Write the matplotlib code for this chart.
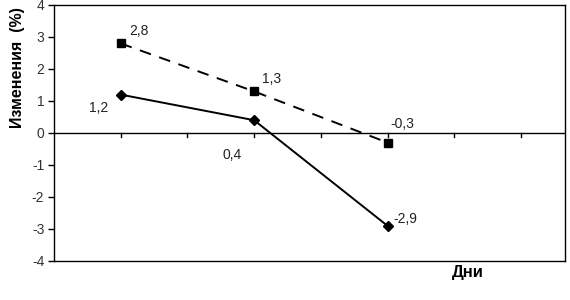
import matplotlib
matplotlib.use("Agg")
import matplotlib.pyplot as plt

plt.rcParams['font.family'] = ['Liberation Sans', 'DejaVu Sans']
plt.rcParams['axes.unicode_minus'] = False

x_pos = [1, 3, 5]
dashed_vals = [2.8, 1.3, -0.3]
solid_vals = [1.2, 0.4, -2.9]
dashed_labels = ["2,8", "1,3", "-0,3"]
solid_labels = ["1,2", "0,4", "-2,9"]
y_ticks = [-4, -3, -2, -1, 0, 1, 2, 3, 4]

fig = plt.figure(figsize=(5.7, 3.0), dpi=100)
ax = fig.add_axes([54/570, 1-261/300, (565-54)/570, (261-5)/300])

ax.plot(x_pos, dashed_vals, color='black', lw=1.4, ls=(0, (6, 4.5)),
        marker='s', ms=6, mfc='black', mec='black', clip_on=False)
ax.plot(x_pos, solid_vals, color='black', lw=1.4, ls='-',
        marker='D', ms=5, mfc='black', mec='black', clip_on=False)

ax.set_xlim(0, (565-54)/66.7)
ax.set_ylim(-4, 4)

ax.set_yticks(y_ticks)
ax.set_yticklabels([str(v) for v in y_ticks])
ax.tick_params(axis='y', direction='out', length=4, width=1, labelsize=10, pad=3, colors='black', labelcolor='#333333')

ax.set_xticks([])
ax.axhline(0, color='black', lw=1)
for t in range(1, 8):
    ax.plot([t, t], [0, -0.13], color='black', lw=1, clip_on=False)

for s in ax.spines.values():
    s.set_linewidth(1)

offs_d = [(6, 4), (6, 4), (2, 8)]
for xv, yv, lab, (dx, dy) in zip(x_pos, dashed_vals, dashed_labels, offs_d):
    ax.annotate(lab, (xv, yv), xytext=(dx, dy), textcoords='offset points',
                fontsize=10, color='#222222', ha='left', va='bottom')
offs_s = [(-23, -15), (-23, -30), (4, 0)]
for xv, yv, lab, (dx, dy) in zip(x_pos, solid_vals, solid_labels, offs_s):
    ax.annotate(lab, (xv, yv), xytext=(dx, dy), textcoords='offset points',
                fontsize=10, color='#222222', ha='left', va='bottom')

fig.text(18/570, 1-68/300, "Изменения  (%)", rotation=90, fontsize=11.5,
         fontweight='bold', ha='center', va='center')
fig.text(468/570, 1-273/300, "Дни", fontsize=12, fontweight='bold',
         ha='center', va='center')

fig.savefig("out.png", dpi=100)
